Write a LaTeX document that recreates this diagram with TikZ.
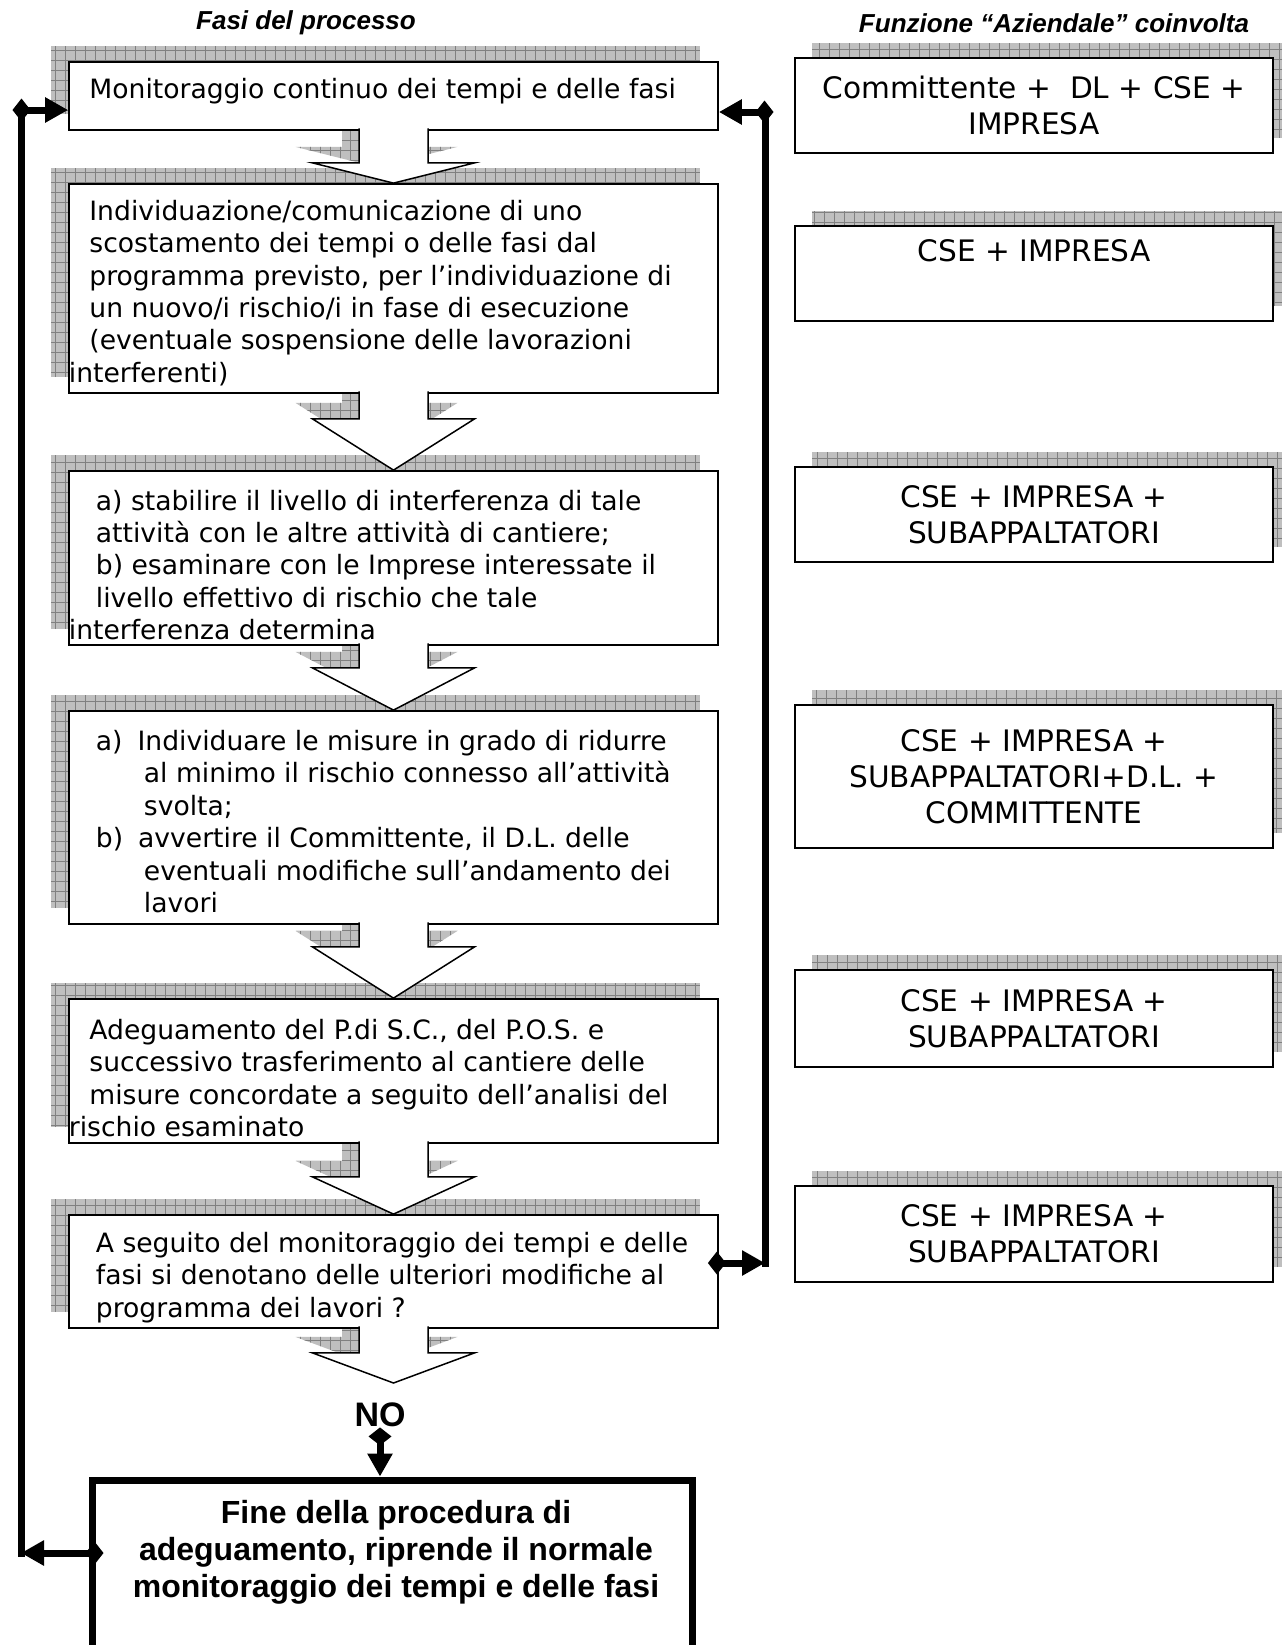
\documentclass[tikz,border=0pt]{standalone}
\usepackage{fontspec}
\setmainfont{DejaVu Sans}
\newfontfamily\arialfont{Liberation Sans}
\usetikzlibrary{calc,arrows.meta,shadows,backgrounds}

\begin{document}
\begin{tikzpicture}
[x=0.5pt,y=-0.5pt,
griglia/.style={fill=black!25,path picture={\draw[black!50,line width=0.45pt,step=5pt] (path picture bounding box.south west) grid (path picture bounding box.north east);}},
fase/.style={draw,line width=0.9pt,fill=white,inner sep=0pt,minimum width=324.5pt,
  general shadow={griglia,shadow xshift=-9pt,shadow yshift=8pt}},
ruolo/.style={draw,line width=0.9pt,fill=white,inner sep=0pt,minimum width=239pt,align=center,
  font=\fontsize{14.8}{18}\selectfont,
  general shadow={griglia,shadow xshift=8.5pt,shadow yshift=7.5pt}},
testo/.style={anchor=west,align=left,inner sep=0pt,font=\fontsize{13.3}{16.2}\selectfont},
titolo/.style={inner sep=0pt,font=\arialfont\bfseries\itshape\fontsize{13}{15}\selectfont},
freccia/.style={draw,fill=white,line width=0.75pt,line join=miter},
sagoma/.style n args={5}{insert path={($(#1.south)+(-34.5+#4,-2.5+#5)$) -- ($(#1.south)+(-34.5+#4,#3+#5)$) -- ($(#1.south)+(-81+#4,#3+#5)$) -- ($(#2)+(#4,#5)$) -- ($(#1.south)+(81+#4,#3+#5)$) -- ($(#1.south)+(34.5+#4,#3+#5)$) -- ($(#1.south)+(34.5+#4,-2.5+#5)$)}},
linea/.style={line width=3.5pt},
dt/.style={{Diamond[length=9pt,width=11.5pt]}-{Triangle[length=11.5pt,width=12pt]}},
]

\useasboundingbox (0,0) rectangle (1281,1645);

%Titoli
\node (t1) at (306,23) [titolo] {Fasi del processo};
\node (t2) at (1054,23) [titolo] {Funzione “Aziendale” coinvolta};

%Fasi del processo
\node (f1) at (393.5,96) [fase,minimum height=34pt] {};
\node (f2) at (393.5,288.5) [fase,minimum height=104.5pt] {};
\node (f3) at (393.5,558) [fase,minimum height=87pt] {};
\node (f4) at (393.5,817.5) [fase,minimum height=106.5pt] {};
\node (f5) at (393.5,1071) [fase,minimum height=72pt] {};
\node (f6) at (393.5,1271.5) [fase,minimum height=56.5pt] {};
\coordinate (p6) at (393.5,1383);

\node (f1t) at (89,91) [testo] {Monitoraggio continuo dei tempi e delle fasi};
\node (f2t) at (89,293) [testo] {Individuazione/comunicazione di uno\\
scostamento dei tempi o delle fasi dal\\
programma previsto, per l’individuazione di\\
un nuovo/i rischio/i in fase di esecuzione\\
(eventuale sospensione delle lavorazioni\\
\hspace*{-10.25pt}interferenti)};
\node (f3t) at (95.5,565) [testo] {a) stabilire il livello di interferenza di tale\\
attività con le altre attività di cantiere;\\
b) esaminare con le Imprese interessate il\\
livello effettivo di rischio che tale\\
\hspace*{-13.5pt}interferenza determina};
\node (f4t) at (95.5,821.5) [testo] {a)\hspace{7.5pt}Individuare le misure in grado di ridurre\\
\hspace*{24pt}al minimo il rischio connesso all’attività\\
\hspace*{24pt}svolta;\\
b)\hspace{7.5pt}avvertire il Committente, il D.L. delle\\
\hspace*{24pt}eventuali modifiche sull’andamento dei\\
\hspace*{24pt}lavori};
\node (f5t) at (89,1078) [testo] {Adeguamento del P.di S.C., del P.O.S. e\\
successivo trasferimento al cantiere delle\\
misure concordate a seguito dell’analisi del\\
\hspace*{-10.25pt}rischio esaminato};
\node (f6t) at (95.5,1277.5) [testo] {A seguito del monitoraggio dei tempi e delle\\
fasi si denotano delle ulteriori modifiche al\\
programma dei lavori ?};

%Frecce tra le fasi
\begin{scope}[on background layer]
\path[griglia,sagoma={f1}{f2.north}{32}{-17}{-16}];
\path[griglia,sagoma={f2}{f3.north}{25}{-17}{-16}];
\path[griglia,sagoma={f3}{f4.north}{22}{-17}{-16}];
\path[griglia,sagoma={f4}{f5.north}{22}{-17}{-16}];
\path[griglia,sagoma={f5}{f6.north}{33}{-17}{-16}];
\path[griglia,sagoma={f6}{p6}{24}{-17}{-16}];
\end{scope}
\filldraw[freccia,sagoma={f1}{f2.north}{32}{0}{0}];
\filldraw[freccia,sagoma={f2}{f3.north}{25}{0}{0}];
\filldraw[freccia,sagoma={f3}{f4.north}{22}{0}{0}];
\filldraw[freccia,sagoma={f4}{f5.north}{22}{0}{0}];
\filldraw[freccia,sagoma={f5}{f6.north}{33}{0}{0}];
\filldraw[freccia,sagoma={f6}{p6}{24}{0}{0}];

%Funzione aziendale
\node (r1) at (1034,105.5) [ruolo,minimum height=47.5pt] {Committente +~ DL + CSE +\\ IMPRESA};
\node (r2) at (1034,273.5) [ruolo,minimum height=47.5pt] {CSE + IMPRESA\\ \strut};
\node (r3) at (1034,514.5) [ruolo,minimum height=47.5pt] {CSE + IMPRESA +\\ SUBAPPALTATORI};
\node (r4) at (1034,776.5) [ruolo,minimum height=71.5pt] {CSE + IMPRESA +\\ SUBAPPALTATORI+D.L. +\\ COMMITTENTE};
\node (r5) at (1034,1018.5) [ruolo,minimum height=48.5pt] {CSE + IMPRESA +\\ SUBAPPALTATORI};
\node (r6) at (1034,1234) [ruolo,minimum height=48pt] {CSE + IMPRESA +\\ SUBAPPALTATORI};

%Fine della procedura
\node (no) at (380,1415) [inner sep=0pt,font=\arialfont\bfseries\fontsize{17}{20}\selectfont] {NO};
\node (fine) at (392,1575) [draw,line width=3.5pt,inner sep=0pt,minimum width=300pt,minimum height=95pt] {};
\node (finet) at (396,1552) [align=center,inner sep=0pt,font=\arialfont\bfseries\fontsize{16}{18.5}\selectfont] {Fine della procedura di\\ adeguamento, riprende il normale\\ monitoraggio dei tempi e delle fasi};

%Connettori
\coordinate (sx1) at (21,110);
\coordinate (sx2) at (21,1553);
\coordinate (dx1) at (765,112);
\coordinate (dx2) at (765,1263);
\draw[linea,line cap=rect] (sx1) -- (sx2);
\draw[linea,line cap=rect] (dx1) -- (dx2);
\draw[linea,dt] ($(sx1)+(-8.5,0)$) -- (f1.west |- sx1);
\draw[linea,dt] ($(fine.west |- sx2)+(15,0)$) -- (sx2);
\draw[linea,dt] ($(dx1)+(8.5,0)$) -- (f1.east |- dx1);
\draw[linea,dt] ($(f6.east |- dx2)+(-11,0)$) -- (dx2);
\draw[linea,dt] (no.south) -- (no.south |- fine.north);

\end{tikzpicture}
\end{document}
